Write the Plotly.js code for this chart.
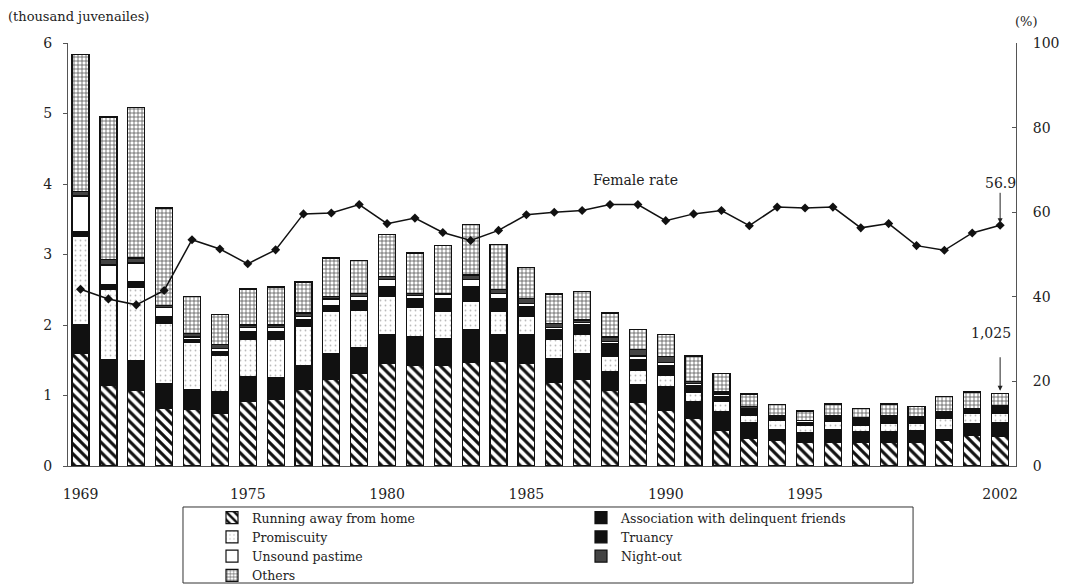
<!DOCTYPE html>
<html>
<head>
<meta charset="utf-8">
<script src="https://cdn.plot.ly/plotly-3.0.1.min.js"></script>
<style>html,body{margin:0;padding:0;background:#fff;}#chart{width:1068px;height:584px;}</style>
</head>
<body>
<div id="chart"></div>
<script>
const years = [1969,1970,1971,1972,1973,1974,1975,1976,1977,1978,1979,1980,1981,1982,1983,1984,1985,1986,1987,1988,1989,1990,1991,1992,1993,1994,1995,1996,1997,1998,1999,2000,2001,2002];
const running = [1.60,1.15,1.07,0.82,0.80,0.75,0.91,0.94,1.09,1.23,1.31,1.45,1.42,1.43,1.47,1.48,1.46,1.18,1.23,1.07,0.90,0.79,0.68,0.51,0.39,0.37,0.33,0.34,0.34,0.34,0.33,0.37,0.43,0.42];
const association = [0.41,0.36,0.42,0.35,0.29,0.30,0.36,0.32,0.34,0.37,0.37,0.42,0.42,0.38,0.47,0.39,0.40,0.35,0.36,0.27,0.26,0.33,0.23,0.26,0.22,0.15,0.14,0.17,0.15,0.15,0.17,0.15,0.17,0.19];
const promiscuity = [1.24,0.99,1.05,0.85,0.67,0.52,0.52,0.54,0.55,0.60,0.53,0.54,0.41,0.38,0.39,0.32,0.26,0.27,0.28,0.21,0.20,0.17,0.14,0.14,0.11,0.12,0.10,0.12,0.08,0.12,0.10,0.16,0.15,0.13];
const truancy = [0.07,0.07,0.07,0.10,0.04,0.05,0.11,0.10,0.09,0.08,0.13,0.13,0.12,0.18,0.22,0.19,0.14,0.14,0.13,0.18,0.15,0.14,0.09,0.08,0.07,0.05,0.05,0.05,0.07,0.07,0.07,0.06,0.05,0.07];
const unsound = [0.51,0.28,0.27,0.13,0.03,0.05,0.07,0.06,0.05,0.09,0.07,0.10,0.05,0.06,0.09,0.07,0.04,0.03,0.03,0.04,0.05,0.04,0.03,0.03,0.02,0.02,0.02,0.02,0.02,0.02,0.02,0.02,0.01,0.02];
const nightOut = [0.06,0.08,0.07,0.03,0.05,0.05,0.03,0.04,0.05,0.04,0.04,0.05,0.03,0.02,0.07,0.05,0.08,0.05,0.04,0.06,0.09,0.08,0.03,0.03,0.03,0.01,0.01,0.01,0.02,0.01,0.01,0.01,0.01,0.02];
const others = [1.95,2.02,2.14,1.38,0.53,0.43,0.51,0.54,0.44,0.54,0.47,0.59,0.57,0.68,0.72,0.64,0.44,0.42,0.40,0.34,0.29,0.32,0.36,0.26,0.18,0.15,0.13,0.17,0.14,0.17,0.14,0.22,0.23,0.175];
const femaleRate = [41.8,39.5,38.1,41.5,53.5,51.3,47.8,51.1,59.6,59.8,61.8,57.3,58.6,55.2,53.3,55.7,59.4,60.0,60.4,61.8,61.8,58.0,59.6,60.4,56.8,61.2,61.0,61.2,56.3,57.3,52.1,51.0,55.1,56.9];
const xTicks = [1969,1975,1980,1985,1990,1995,2002];

const FONT = 'DejaVu Serif, Liberation Serif, serif';
const outline = {color:'#111', width:1.2};

function bar(name, y, marker){
  return {type:'bar', name:name, x:years, y:y, marker:Object.assign({line:outline}, marker), hoverinfo:'skip'};
}

const traces = [
  bar('Running away from home', running, {color:'#fff', pattern:{shape:'\\', fgcolor:'#111', bgcolor:'#fff', size:7, solidity:0.45}}),
  bar('Association with delinquent friends', association, {color:'#111'}),
  bar('Promiscuity', promiscuity, {color:'#fff', pattern:{shape:'.', fgcolor:'#bbb', bgcolor:'#fff', size:5, solidity:0.1}}),
  bar('Truancy', truancy, {color:'#111'}),
  bar('Unsound pastime', unsound, {color:'#fff'}),
  bar('Night-out', nightOut, {color:'#444'}),
  bar('Others', others, {color:'#fff', pattern:{shape:'+', fgcolor:'#555', bgcolor:'#fff', size:4, solidity:0.35}}),
  {type:'scatter', mode:'lines+markers', x:years, y:femaleRate, yaxis:'y2', showlegend:false,
   line:{color:'#111', width:1.5}, marker:{symbol:'diamond', size:7, color:'#111'}, hoverinfo:'skip'}
];

const layout = {
  width:1068, height:584, autosize:false,
  margin:{l:68, r:52, t:43, b:118, autoexpand:false},
  paper_bgcolor:'#fff', plot_bgcolor:'#fff',
  font:{family:FONT, size:14, color:'#222'},
  barmode:'stack', bargap:0.39,
  xaxis:{range:[1968.55, 2002.57], tickvals:xTicks, ticktext:xTicks.map(String), showgrid:false, zeroline:false,
         showline:true, linecolor:'#555', linewidth:1, ticks:'', ticklabelstandoff:15, tickfont:{family:FONT, size:14}},
  yaxis:{range:[0,6], tickvals:[0,1,2,3,4,5,6], showgrid:false, zeroline:false, showline:true, linecolor:'#555', linewidth:1,
         ticks:'outside', ticklen:4, tickcolor:'#555', ticklabelstandoff:8, tickfont:{family:FONT, size:14}},
  yaxis2:{range:[0,100], overlaying:'y', side:'right', tickvals:[0,20,40,60,80,100], showgrid:false, zeroline:false,
          showline:true, linecolor:'#555', linewidth:1, ticks:'inside', ticklen:4, tickcolor:'#555', ticklabelstandoff:13,
          tickfont:{family:FONT, size:14}},
  legend:{orientation:'h', x:0.1519, y:-0.0875, xanchor:'left', yanchor:'top', entrywidth:324, itemwidth:30,
          borderwidth:0, bgcolor:'rgba(0,0,0,0)', font:{family:FONT, size:12.5, color:'#222'}, traceorder:'normal', tracegroupgap:0},
  shapes:[
    {type:'rect', xref:'paper', yref:'paper', x0:0.1213, x1:0.8914, y0:-0.0969, y1:-0.2766, line:{color:'#333', width:1}, fillcolor:'rgba(0,0,0,0)', layer:'below'}
  ],
  annotations:[
    {text:'(thousand juvenailes)', xref:'paper', yref:'paper', x:-0.0654, y:1.062, xanchor:'left', yanchor:'middle', showarrow:false, font:{family:FONT, size:13}},
    {text:'(%)', xref:'paper', yref:'paper', x:1.0116, y:1.052, xanchor:'center', yanchor:'middle', showarrow:false, font:{family:FONT, size:13}},
    {text:'Female rate', xref:'x', yref:'y2', x:1988.9, y:67.5, showarrow:false, font:{family:FONT, size:14}},
    {text:'56.9', xref:'x', yref:'y2', x:2002, y:56.9, showarrow:true, ax:0, ay:-42, standoff:2, arrowhead:2, arrowsize:1, arrowwidth:1, arrowcolor:'#222', font:{family:FONT, size:14}},
    {text:'1,025', xref:'x', yref:'y', x:2002, y:1.025, showarrow:false, xshift:-9, yshift:61, font:{family:FONT, size:14}},
    {text:' ', xref:'x', yref:'y', x:2002, y:1.025, showarrow:true, ax:0, ay:-46, standoff:3, arrowhead:2, arrowsize:1, arrowwidth:1, arrowcolor:'#222'}
  ]
};

Plotly.newPlot('chart', traces, layout, {displayModeBar:false, staticPlot:true});
</script>
</body>
</html>
